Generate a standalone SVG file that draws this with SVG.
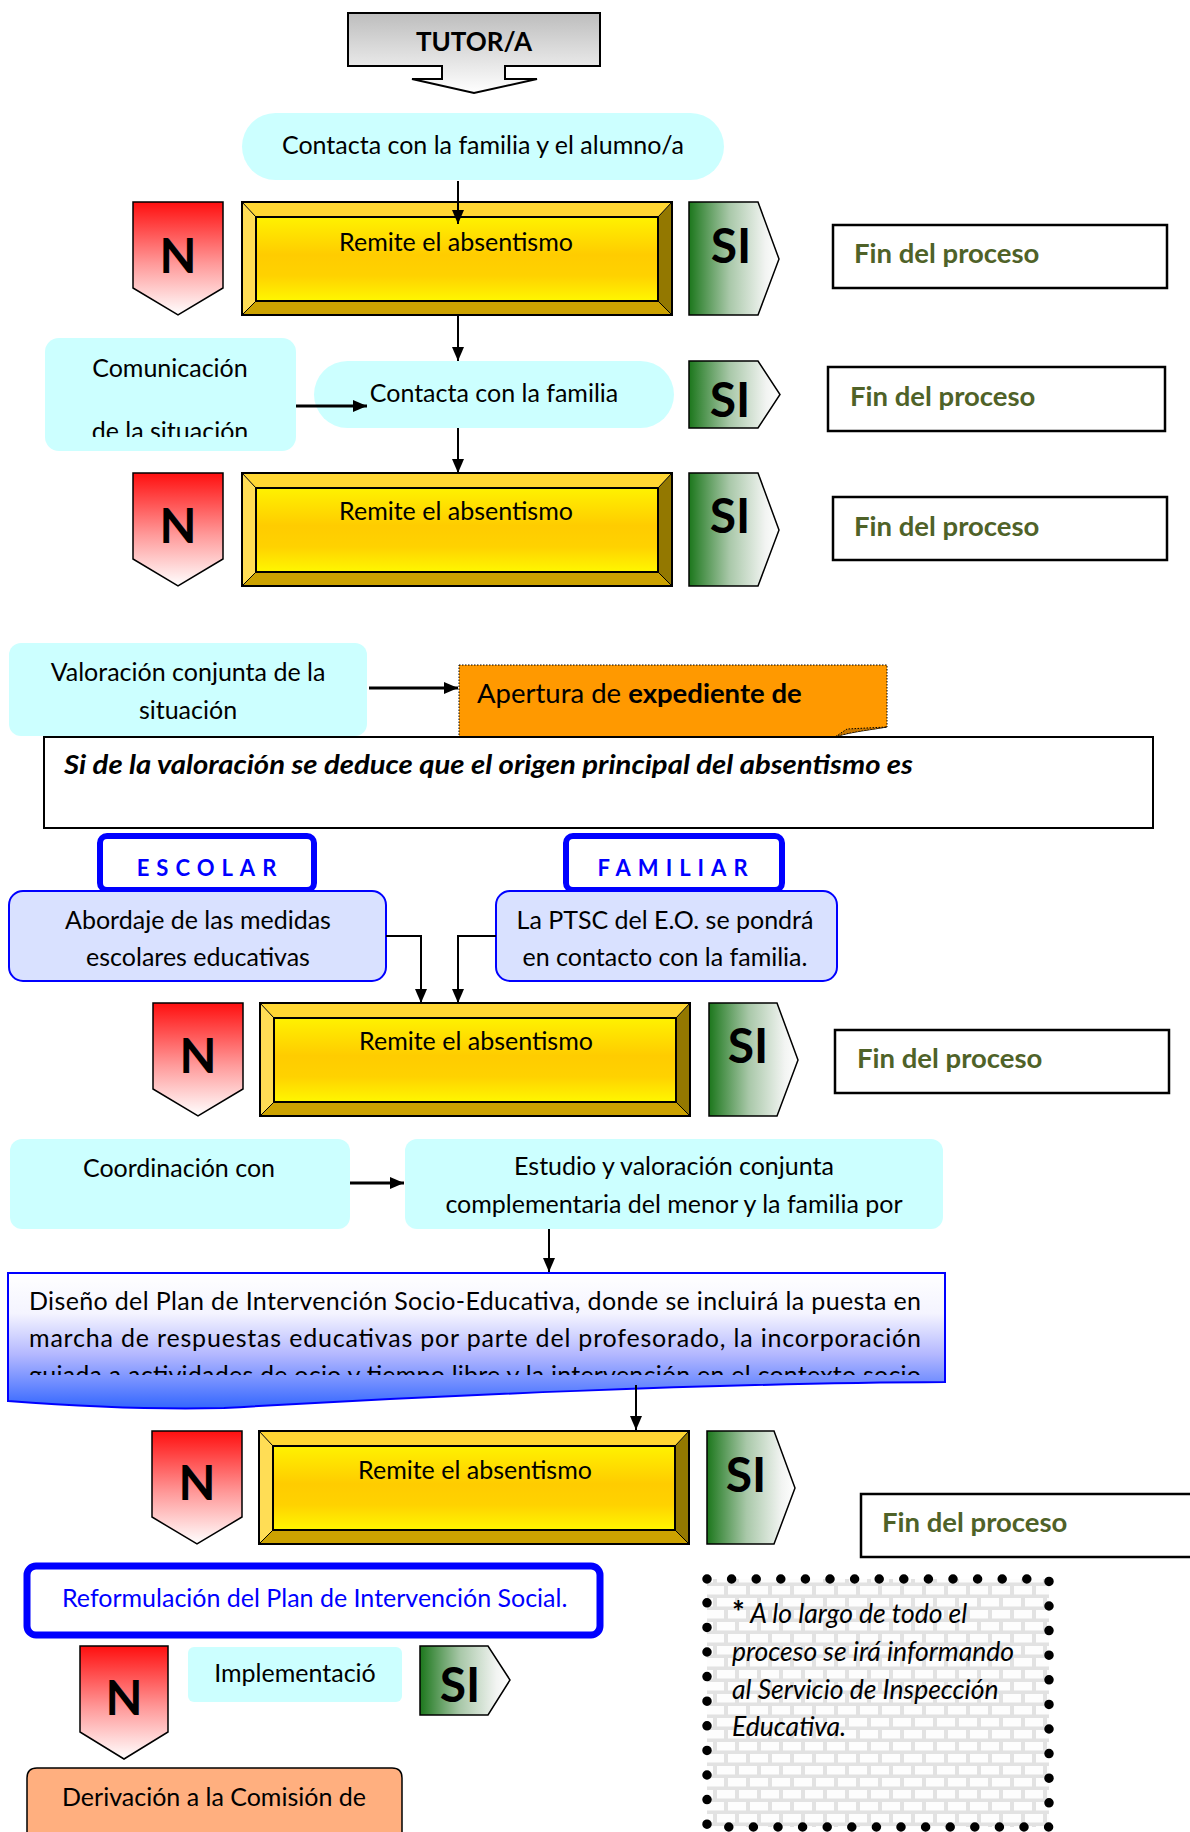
<svg xmlns="http://www.w3.org/2000/svg" xmlns:xlink="http://www.w3.org/1999/xlink" width="1190" height="1832" viewBox="0 0 1190 1832">
<style>
text{font-family:Lato,"Liberation Sans",sans-serif;fill:#000}
.t{font-size:25px}
.c{text-anchor:middle}
.b{font-weight:bold}
.n{font-size:48px;font-weight:bold;text-anchor:middle}
.si{font-size:48px;font-weight:bold;text-anchor:middle}
.fin{font-size:27.5px;font-weight:bold;fill:#4F6228}
.finbox{fill:#fff;stroke:#000;stroke-width:2.5}
.cyan{fill:#CCFFFF}
.npath{fill:url(#gN);stroke:#000;stroke-width:1.5}
.sipath{fill:url(#gSI);stroke:#000;stroke-width:1.5}
.bluebox{fill:#fff;stroke:#0000FF;stroke-width:6}
.lav{fill:#D9E1FF;stroke:#0000FF;stroke-width:2}
.lbl{font-size:22px;font-weight:bold;fill:#0000FF;letter-spacing:7px;text-anchor:middle}
.note{font-size:26.5px;font-style:italic}
.conn{fill:none;stroke:#000;stroke-width:2}
.conn3{fill:none;stroke:#000;stroke-width:3}
</style>
<defs>
<linearGradient id="gTutor" x1="0" y1="0" x2="0" y2="1"><stop offset="0" stop-color="#BDBDBD"/><stop offset="1" stop-color="#FFFFFF"/></linearGradient>
<linearGradient id="gN" x1="0" y1="0" x2="0" y2="1"><stop offset="0" stop-color="#FF0F0F"/><stop offset="0.55" stop-color="#FF9A9A"/><stop offset="1" stop-color="#FFFFFF"/></linearGradient>
<linearGradient id="gSI" x1="0" y1="0" x2="1" y2="0"><stop offset="0" stop-color="#1C771C"/><stop offset="0.45" stop-color="#A9C8A9"/><stop offset="0.85" stop-color="#F2F4F2"/><stop offset="1" stop-color="#FFFFFF"/></linearGradient>
<linearGradient id="gYel" x1="0" y1="0" x2="0" y2="1"><stop offset="0" stop-color="#FFF200"/><stop offset="0.45" stop-color="#FFCC00"/><stop offset="0.7" stop-color="#FFD200"/><stop offset="1" stop-color="#FFF700"/></linearGradient>
<linearGradient id="gPlan" x1="0" y1="0" x2="0" y2="1"><stop offset="0" stop-color="#FFFFFF"/><stop offset="0.3" stop-color="#F4F4FF"/><stop offset="0.6" stop-color="#B4B8FF"/><stop offset="1" stop-color="#3366FF"/></linearGradient>
<pattern id="brick" width="22" height="24" patternUnits="userSpaceOnUse">
<rect width="22" height="24" fill="#E2E2E2"/>
<rect x="2" y="2" width="18" height="8.5" fill="#FDFDFD"/>
<rect x="13" y="14" width="18" height="8.5" fill="#FDFDFD"/>
<rect x="-9" y="14" width="18" height="8.5" fill="#FDFDFD"/>
</pattern>
<marker id="ah" markerUnits="userSpaceOnUse" viewBox="0 0 14 12" markerWidth="14" markerHeight="12" refX="14" refY="6" orient="auto"><path d="M0,0 L14,6 L0,12 Z" fill="#000"/></marker>
<g id="bevel">
<polygon points="0,0 430,0 416,15 14,15" fill="#FFD633"/>
<polygon points="0,0 14,15 14,99 0,113" fill="#FFDD55"/>
<polygon points="430,0 430,113 416,99 416,15" fill="#937800"/>
<polygon points="0,113 14,99 416,99 430,113" fill="#CCA200"/>
<rect x="14" y="15" width="402" height="84" fill="url(#gYel)" stroke="#000" stroke-width="2"/>
<path d="M0,0 L14,15 M430,0 L416,15 M0,113 L14,99 M430,113 L416,99" stroke="#000" stroke-width="1"/>
<rect x="0" y="0" width="430" height="113" fill="none" stroke="#000" stroke-width="2"/>
</g>
<path id="nshape" d="M0,0 H90 V86 L45,113 L0,86 Z"/>
<clipPath id="clipCom"><rect x="45" y="338" width="251" height="99"/></clipPath>
<clipPath id="clipPlan"><rect x="8" y="1273" width="937" height="102"/></clipPath>
</defs>

<rect width="1190" height="1832" fill="#fff"/>

<g id="tutor">
<path d="M348,13 H600 V66 H505 V79 H537 L474,93 L412,79 H442 V66 H348 Z" fill="url(#gTutor)" stroke="#000" stroke-width="2"/>
<text x="474" y="51" class="c b" font-size="26">TUTOR/A</text>
</g>

<g id="contacta1">
<rect x="242" y="113" width="482" height="67" rx="33.5" class="cyan"/>
<text x="483" y="154" class="t c">Contacta con la familia y el alumno/a</text>
</g>

<g id="remite1">
<use href="#bevel" x="242" y="202"/>
<text x="456" y="251" class="t c">Remite el absentismo</text>
</g>
<g id="n1"><use href="#nshape" x="133" y="202" class="npath"/><text x="178" y="273" class="n">N</text></g>
<g id="si1"><path d="M689,202 H758 L779,259 L758,315 H689 Z" class="sipath"/><text x="731" y="263" class="si">SI</text></g>
<g id="fin1"><rect x="833" y="225" width="334" height="63" class="finbox"/><text x="854" y="263" class="fin">Fin del proceso</text></g>

<g id="comunicacion">
<rect x="45" y="338" width="251" height="113" rx="14" class="cyan"/>
<g clip-path="url(#clipCom)">
<text x="170" y="377" class="t c">Comunicación</text>
<text x="170" y="440" class="t c">de la situación</text>
</g>
</g>

<g id="contacta2">
<rect x="314" y="361" width="360" height="67" rx="33.5" class="cyan"/>
<text x="494" y="402" class="t c">Contacta con la familia</text>
</g>
<g id="si2"><path d="M689,361 H758 L780,394.5 L758,428 H689 Z" class="sipath"/><text x="730" y="417" class="si">SI</text></g>
<g id="fin2"><rect x="828" y="367" width="337" height="64" class="finbox"/><text x="850" y="406" class="fin">Fin del proceso</text></g>

<g id="remite2">
<use href="#bevel" x="242" y="473"/>
<text x="456" y="520" class="t c">Remite el absentismo</text>
</g>
<g id="n2"><use href="#nshape" x="133" y="473" class="npath"/><text x="178" y="543" class="n">N</text></g>
<g id="si3"><path d="M689,473 H758 L779,530 L758,586 H689 Z" class="sipath"/><text x="730" y="533" class="si">SI</text></g>
<g id="fin3"><rect x="833" y="497" width="334" height="63" class="finbox"/><text x="854" y="536" class="fin">Fin del proceso</text></g>

<g id="valoracion">
<rect x="9" y="643" width="358" height="93" rx="12" class="cyan"/>
<text x="188" y="681" class="t c">Valoración conjunta de la</text>
<text x="188" y="719" class="t c">situación</text>
</g>

<g id="apertura">
<path d="M459,665 H887 V727 C870,730 850,732 835,737 H459 Z" fill="#FF9900" stroke="#000" stroke-width="1" stroke-dasharray="1.5 1.5"/>
<path d="M835,737 C850,732 870,730 887,727 L847,729 Z" fill="#C77700" stroke="#000" stroke-width="1" stroke-dasharray="1.5 1.5"/>
<text x="477" y="703" class="t" style="font-size:27.5px">Apertura de <tspan class="b">expediente de</tspan></text>
</g>

<g id="sidela">
<rect x="44" y="737" width="1109" height="91" fill="#fff" stroke="#000" stroke-width="2"/>
<text x="64" y="774" class="b" font-style="italic" font-size="27" textLength="849" lengthAdjust="spacingAndGlyphs">Si de la valoración se deduce que el origen principal del absentismo es</text>
</g>

<g id="escolar">
<rect x="100" y="836" width="214" height="54" rx="7" class="bluebox"/>
<text x="210" y="876" class="lbl">ESCOLAR</text>
</g>
<g id="familiar">
<rect x="566" y="836" width="216" height="54" rx="7" class="bluebox"/>
<text x="676" y="876" class="lbl">FAMILIAR</text>
</g>

<g id="abordaje">
<rect x="9" y="891" width="377" height="90" rx="14" class="lav"/>
<text x="198" y="929" class="t c">Abordaje de las medidas</text>
<text x="198" y="966" class="t c">escolares educativas</text>
</g>
<g id="ptsc">
<rect x="496" y="891" width="341" height="90" rx="14" class="lav"/>
<text x="665" y="929" class="t c">La PTSC del E.O. se pondrá</text>
<text x="665" y="966" class="t c">en contacto con la familia.</text>
</g>

<g id="remite3">
<use href="#bevel" x="260" y="1003"/>
<text x="476" y="1050" class="t c">Remite el absentismo</text>
</g>
<g id="n3"><use href="#nshape" x="153" y="1003" class="npath"/><text x="198" y="1073" class="n">N</text></g>
<g id="si4"><path d="M709,1003 H777 L798,1060 L777,1116 H709 Z" class="sipath"/><text x="748" y="1063" class="si">SI</text></g>
<g id="fin4"><rect x="835" y="1030" width="334" height="63" class="finbox"/><text x="857" y="1068" class="fin">Fin del proceso</text></g>

<g id="coordinacion">
<rect x="10" y="1139" width="340" height="90" rx="12" class="cyan"/>
<text x="179" y="1177" class="t c">Coordinación con</text>
</g>
<g id="estudio">
<rect x="405" y="1139" width="538" height="90" rx="12" class="cyan"/>
<text x="674" y="1175" class="t c">Estudio y valoración conjunta</text>
<text x="674" y="1213" class="t c">complementaria del menor y la familia por</text>
</g>

<g id="diseno">
<path d="M8,1273 H945 V1382 C720,1383 430,1396 224,1408 C140,1410 60,1405 8,1401 Z" fill="url(#gPlan)" stroke="#0000FF" stroke-width="2"/>
<g clip-path="url(#clipPlan)">
<text x="29" y="1310" class="t" textLength="892" lengthAdjust="spacing">Diseño del Plan de Intervención Socio-Educativa, donde se incluirá la puesta en</text>
<text x="29" y="1347" class="t" textLength="892" lengthAdjust="spacing">marcha de respuestas educativas por parte del profesorado, la incorporación</text>
<text x="29" y="1384" class="t" textLength="892" lengthAdjust="spacing">guiada a actividades de ocio y tiempo libre y la intervención en el contexto socio</text>
</g>
</g>

<g id="remite4">
<use href="#bevel" x="259" y="1431"/>
<text x="475" y="1479" class="t c">Remite el absentismo</text>
</g>
<g id="n4"><use href="#nshape" x="152" y="1431" class="npath"/><text x="197" y="1500" class="n">N</text></g>
<g id="si5"><path d="M707,1431 H774 L795,1488 L774,1544 H707 Z" class="sipath"/><text x="746" y="1492" class="si">SI</text></g>
<g id="fin5"><rect x="861" y="1494" width="340" height="63" class="finbox"/><text x="882" y="1532" class="fin">Fin del proceso</text></g>

<g id="reformulacion">
<rect x="27" y="1566" width="573" height="69" rx="9" fill="#fff" stroke="#0000FF" stroke-width="7"/>
<text x="62" y="1607" class="t" style="fill:#0000FF">Reformulación del Plan de Intervención Social.</text>
</g>

<g id="n5"><path d="M80,1646 H168 V1732 L124,1759 L80,1732 Z" class="npath"/><text x="124" y="1715" class="n">N</text></g>
<g id="implementacion">
<rect x="188" y="1647" width="214" height="55" rx="6" class="cyan"/>
<text x="295" y="1682" class="t c">Implementació</text>
</g>
<g id="si6"><path d="M420,1646 H488 L510,1680 L488,1715 H420 Z" class="sipath"/><text x="460" y="1702" class="si">SI</text></g>

<g id="derivacion">
<path d="M27,1840 V1778 Q27,1768 37,1768 H392 Q402,1768 402,1778 V1840 Z" fill="#FFAF7F" stroke="#000" stroke-width="1.5"/>
<text x="214" y="1806" class="t c">Derivación a la Comisión de</text>
</g>

<g id="nota">
<rect x="707" y="1579" width="342" height="248" fill="url(#brick)"/>
<rect x="707" y="1579" width="342" height="248" fill="none" stroke="#000" stroke-width="9.5" stroke-linecap="round" stroke-dasharray="0 24.6"/>
<text x="732" y="1623" class="note"><tspan font-weight="bold" font-style="normal" font-size="30">*</tspan> A lo largo de todo el</text>
<text x="732" y="1661" class="note">proceso se irá informando</text>
<text x="732" y="1699" class="note">al Servicio de Inspección</text>
<text x="732" y="1736" class="note">Educativa.</text>
</g>

<g id="connectors">
<path d="M458,181 V224" class="conn" marker-end="url(#ah)"/>
<path d="M458,316 V361" class="conn" marker-end="url(#ah)"/>
<path d="M296,406 H367" class="conn3" marker-end="url(#ah)"/>
<path d="M458,428 V473" class="conn" marker-end="url(#ah)"/>
<path d="M369,688 H458" class="conn3" marker-end="url(#ah)"/>
<path d="M386,936 H421 V1003" class="conn" marker-end="url(#ah)"/>
<path d="M496,936 H458 V1003" class="conn" marker-end="url(#ah)"/>
<path d="M350,1183 H404" class="conn3" marker-end="url(#ah)"/>
<path d="M549,1229 V1272" class="conn" marker-end="url(#ah)"/>
<path d="M636,1385 V1430" class="conn" marker-end="url(#ah)"/>
</g>
</svg>
